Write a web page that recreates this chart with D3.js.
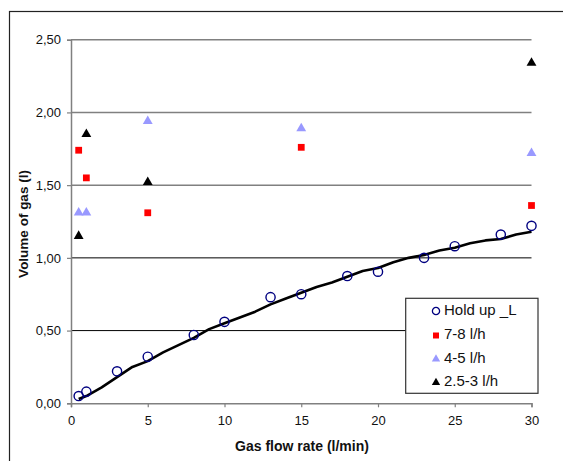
<!DOCTYPE html>
<html><head><meta charset="utf-8">
<script src="https://cdn.jsdelivr.net/npm/d3@7"></script>
<style>
body{margin:0;background:#fff;}
svg{display:block;font-family:Arial,"Liberation Sans",sans-serif;}
</style></head>
<body><svg id="c" width="563" height="461"></svg>
<script>
// Data
const holdX = [0.5, 1, 3, 5, 8, 10, 13, 15, 18, 20, 23, 25, 28, 30];
const holdY = [0.05, 0.08, 0.22, 0.32, 0.47, 0.56, 0.73, 0.75, 0.875, 0.905, 1.00, 1.08, 1.16, 1.22];
const lineX = [0.5, 1, 2, 3, 4, 5, 6, 7, 8, 9, 10, 11, 12, 13, 14, 15, 16, 17, 18, 19, 20, 21, 22, 23, 24, 25, 26, 27, 28, 29, 30];
const lineY = [0.03, 0.05, 0.11, 0.18, 0.25, 0.29, 0.35, 0.40, 0.45, 0.51, 0.55, 0.59, 0.63, 0.68, 0.72, 0.76, 0.80, 0.83, 0.87, 0.91, 0.93, 0.97, 1.00, 1.02, 1.05, 1.07, 1.10, 1.12, 1.13, 1.16, 1.18];
const s78X = [0.5, 1, 5, 15, 30];
const s78Y = [1.74, 1.55, 1.31, 1.76, 1.36];
const s45X = [0.5, 1, 5, 15, 30];
const s45Y = [1.31, 1.31, 1.94, 1.89, 1.72];
const s25X = [0.5, 1, 5, 30];
const s25Y = [1.15, 1.85, 1.52, 2.34];
const xTicks = [0, 5, 10, 15, 20, 25, 30];
const yTicks = [0, 0.5, 1.0, 1.5, 2.0, 2.5];
const legendLabels = ["Hold up _L", "7-8 l/h", "4-5 l/h", "2.5-3 l/h"];

const svg = d3.select("#c");
const L = 71, R = 531.5, T = 39.7, B = 403.3;
const x = d3.scaleLinear().domain([0, 30]).range([L, R]);
const y = d3.scaleLinear().domain([0, 2.5]).range([B, T]);

// outer frame
svg.append("rect").attr("x", 9.5).attr("y", 11.5).attr("width", 700).attr("height", 600)
  .attr("fill", "none").attr("stroke", "#222").attr("stroke-width", 1.2);

// gridlines
svg.append("g").selectAll("line").data(yTicks.filter(d => d > 0)).join("line")
  .attr("x1", L).attr("x2", R).attr("y1", d => y(d)).attr("y2", d => y(d))
  .attr("stroke", d => d > 1.2 ? "#808080" : "#000")
  .attr("stroke-width", d => d > 1.2 ? 1.5 : 1);

// axes
const fmt = d => d3.format(".2f")(d).replace(".", ",");
const gx = svg.append("g").attr("transform", `translate(0,${B})`)
  .call(d3.axisBottom(x).tickValues(xTicks).tickSize(4).tickPadding(8).tickFormat(d3.format("d")));
const gy = svg.append("g").attr("transform", `translate(${L},0)`)
  .call(d3.axisLeft(y).tickValues(yTicks).tickSize(4).tickPadding(6).tickFormat(fmt));
[gx, gy].forEach(g => {
  g.select(".domain").attr("stroke", "#808080").attr("stroke-width", 1.5);
  g.selectAll(".tick line").attr("stroke", "#808080").attr("stroke-width", 1.2);
  g.selectAll("text").attr("font-size", 13).attr("fill", "#111")
    .attr("font-family", "Arial, 'Liberation Sans', sans-serif");
});

// trend line
svg.append("path").datum(lineX.map((d, i) => [d, lineY[i]]))
  .attr("fill", "none").attr("stroke", "#000").attr("stroke-width", 2.6)
  .attr("stroke-linejoin", "round")
  .attr("d", d3.line().x(d => x(d[0])).y(d => y(d[1])));

// markers
const sym = (type, size) => d3.symbol().type(type).size(size)();
svg.append("g").selectAll("circle").data(holdX.map((d, i) => [d, holdY[i]])).join("circle")
  .attr("cx", d => x(d[0])).attr("cy", d => y(d[1])).attr("r", 4.6)
  .attr("fill", "none").attr("stroke", "#000080").attr("stroke-width", 1.4);
svg.append("g").selectAll("path").data(s78X.map((d, i) => [d, s78Y[i]])).join("path")
  .attr("transform", d => `translate(${x(d[0])},${y(d[1])})`)
  .attr("d", sym(d3.symbolSquare, 46)).attr("fill", "#ff0000");
svg.append("g").selectAll("path").data(s45X.map((d, i) => [d, s45Y[i]])).join("path")
  .attr("transform", d => `translate(${x(d[0])},${y(d[1])})`)
  .attr("d", sym(d3.symbolTriangle, 42)).attr("fill", "#9999ff");
svg.append("g").selectAll("path").data(s25X.map((d, i) => [d, s25Y[i]])).join("path")
  .attr("transform", d => `translate(${x(d[0])},${y(d[1])})`)
  .attr("d", sym(d3.symbolTriangle, 42)).attr("fill", "#000");

// axis titles
svg.append("text").attr("x", 302).attr("y", 446).attr("text-anchor", "middle")
  .attr("dominant-baseline", "central").attr("font-size", 14).attr("font-weight", "bold")
  .attr("fill", "#111").text("Gas flow rate (l/min)");
svg.append("text").attr("transform", "translate(23,224) rotate(-90)").attr("text-anchor", "middle")
  .attr("dominant-baseline", "central").attr("font-size", 13.5).attr("font-weight", "bold")
  .attr("fill", "#111").text("Volume of gas (l)");

// legend
const lg = svg.append("g");
lg.append("rect").attr("x", 405.7).attr("y", 298.3).attr("width", 132.3).attr("height", 95)
  .attr("fill", "#fff").attr("stroke", "#333").attr("stroke-width", 1.2);
const rowsY = [309, 333.5, 357, 380.5];
const lgMarks = [
  g => g.append("circle").attr("r", 3.6).attr("fill", "none").attr("stroke", "#000080").attr("stroke-width", 1.3),
  g => g.append("path").attr("d", sym(d3.symbolSquare, 36)).attr("fill", "#ff0000"),
  g => g.append("path").attr("d", sym(d3.symbolTriangle, 30)).attr("fill", "#9999ff"),
  g => g.append("path").attr("d", sym(d3.symbolTriangle, 30)).attr("fill", "#000")
];
legendLabels.forEach((lab, i) => {
  const g = lg.append("g").attr("transform", `translate(436,${rowsY[i] + 2})`);
  lgMarks[i](g);
  lg.append("text").attr("x", 444).attr("y", rowsY[i]).attr("dominant-baseline", "central")
    .attr("font-size", 15).attr("fill", "#111").text(lab);
});
</script></body></html>
